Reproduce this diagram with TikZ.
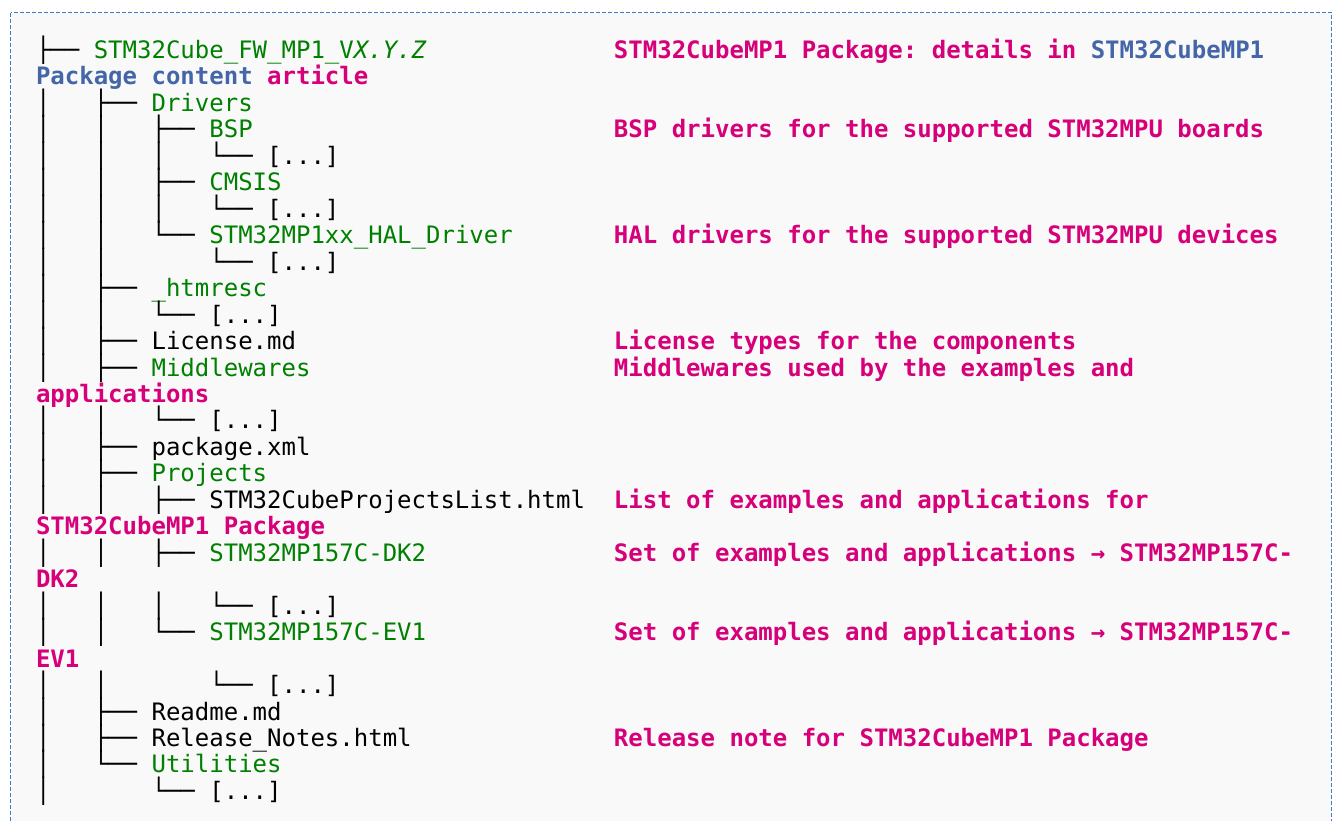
\documentclass[tikz,border=0pt]{standalone}
\usepackage{fontspec}
\setmonofont{DejaVu Sans Mono}[BoldFont={DejaVu Sans Mono Bold},ItalicFont={DejaVu Sans Mono Oblique}]
\definecolor{treegreen}{HTML}{008000}
\definecolor{pinkc}{HTML}{D6007A}
\definecolor{bluec}{HTML}{4466A8}
\definecolor{borderc}{HTML}{3C7DC4}
\definecolor{bgc}{HTML}{F9F9F9}
\newcommand\cmono{\ttfamily\fontsize{24pt}{26.46pt}\selectfont}
\newcommand\tgreen[1]{{\color{treegreen}#1}}
\newcommand\tpink[1]{{\color{pinkc}\bfseries #1}}
\newcommand\tblue[1]{{\color{bluec}\bfseries #1}}
\tikzset{
  ln/.style={anchor=base west, inner sep=0pt, outer sep=0pt, font=\cmono, text=black},
  frame/.style={draw=borderc, fill=bgc, line width=1.3pt, dash pattern=on 4pt off 2pt}
}
\begin{document}
\begin{tikzpicture}
\useasboundingbox (0,0) rectangle (1338pt,-820pt);
\path[frame] (10.5pt,-12.5pt) rectangle (1331.5pt,-840pt);
\begin{scope}[shift={(36pt,-32.04pt)}, x=14.449pt, y=-26.46pt]
% tree column
\node[ln] (l1)  at (0,1)  {├──~\tgreen{STM32Cube\_FW\_MP1\_V\textit{X.Y.Z}}};
\node[ln] (l2)  at (0,2)  {\tblue{Package~content}~\tpink{article}};
\node[ln] (l3)  at (0,3)  {│~~~├──~\tgreen{Drivers}};
\node[ln] (l4)  at (0,4)  {│~~~│~~~├──~\tgreen{BSP}};
\node[ln] (l5)  at (0,5)  {│~~~│~~~│~~~└──~[...]};
\node[ln] (l6)  at (0,6)  {│~~~│~~~├──~\tgreen{CMSIS}};
\node[ln] (l7)  at (0,7)  {│~~~│~~~│~~~└──~[...]};
\node[ln] (l8)  at (0,8)  {│~~~│~~~└──~\tgreen{STM32MP1xx\_HAL\_Driver}};
\node[ln] (l9)  at (0,9)  {│~~~│~~~~~~~└──~[...]};
\node[ln] (l10) at (0,10) {│~~~├──~\tgreen{\_htmresc}};
\node[ln] (l11) at (0,11) {│~~~│~~~└──~[...]};
\node[ln] (l12) at (0,12) {│~~~├──~License.md};
\node[ln] (l13) at (0,13) {│~~~├──~\tgreen{Middlewares}};
\node[ln] (l14) at (0,14) {\tpink{applications}};
\node[ln] (l15) at (0,15) {│~~~│~~~└──~[...]};
\node[ln] (l16) at (0,16) {│~~~├──~package.xml};
\node[ln] (l17) at (0,17) {│~~~├──~\tgreen{Projects}};
\node[ln] (l18) at (0,18) {│~~~│~~~├──~STM32CubeProjectsList.html};
\node[ln] (l19) at (0,19) {\tpink{STM32CubeMP1~Package}};
\node[ln] (l20) at (0,20) {│~~~│~~~├──~\tgreen{STM32MP157C-DK2}};
\node[ln] (l21) at (0,21) {\tpink{DK2}};
\node[ln] (l22) at (0,22) {│~~~│~~~│~~~└──~[...]};
\node[ln] (l23) at (0,23) {│~~~│~~~└──~\tgreen{STM32MP157C-EV1}};
\node[ln] (l24) at (0,24) {\tpink{EV1}};
\node[ln] (l25) at (0,25) {│~~~│~~~~~~~└──~[...]};
\node[ln] (l26) at (0,26) {│~~~├──~Readme.md};
\node[ln] (l27) at (0,27) {│~~~├──~Release\_Notes.html};
\node[ln] (l28) at (0,28) {│~~~└──~\tgreen{Utilities}};
\node[ln] (l29) at (0,29) {│~~~~~~~└──~[...]};
% description column
\node[ln] (d1)  at (40,1)  {\tpink{STM32CubeMP1~Package:~details~in~}\tblue{STM32CubeMP1}};
\node[ln] (d4)  at (40,4)  {\tpink{BSP~drivers~for~the~supported~STM32MPU~boards}};
\node[ln] (d8)  at (40,8)  {\tpink{HAL~drivers~for~the~supported~STM32MPU~devices}};
\node[ln] (d12) at (40,12) {\tpink{License~types~for~the~components}};
\node[ln] (d13) at (40,13) {\tpink{Middlewares~used~by~the~examples~and}};
\node[ln] (d18) at (40,18) {\tpink{List~of~examples~and~applications~for}};
\node[ln] (d20) at (40,20) {\tpink{Set~of~examples~and~applications~→~STM32MP157C-}};
\node[ln] (d23) at (40,23) {\tpink{Set~of~examples~and~applications~→~STM32MP157C-}};
\node[ln] (d27) at (40,27) {\tpink{Release~note~for~STM32CubeMP1~Package}};
\end{scope}
\end{tikzpicture}
\end{document}
